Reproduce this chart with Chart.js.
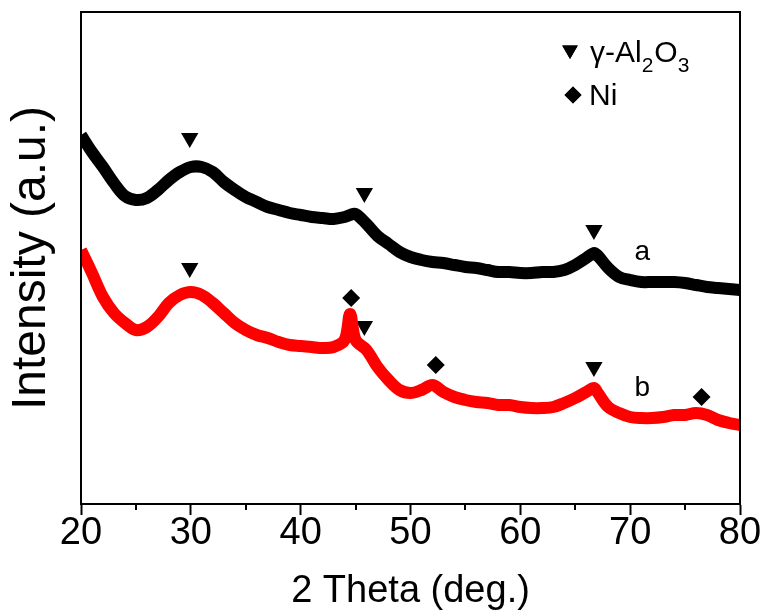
<!DOCTYPE html>
<html>
<head>
<meta charset="utf-8">
<script src="https://cdn.jsdelivr.net/npm/chart.js@4.4.0/dist/chart.umd.min.js"></script>
<style>
  html, body { margin: 0; padding: 0; background: #fff; }
  #wrap { width: 767px; height: 614px; }
</style>
</head>
<body>
<div id="wrap"><canvas id="xrdChart"></canvas></div>
<script>
// 2 theta positions (deg.)
const angles = [20, 21, 22, 23, 24, 25, 26, 27, 28, 29, 30, 31, 32, 33, 34, 35, 36, 37, 38, 39, 40, 41, 42, 43, 44, 44.5,
  45, 46, 47, 48, 49, 50, 51, 52, 53, 54, 55, 56, 57, 58, 59, 60, 61, 62, 63, 64, 65, 66, 66.7,
  67, 68, 69, 70, 71, 72, 73, 74, 75, 76, 77, 78, 79, 80];

// intensity (a.u.), sample a (black) and sample b (red)
const sampleA = [369, 352, 337, 321, 308, 304, 306, 314, 324, 332, 337, 337, 332, 322, 314, 307, 302, 297, 294, 291, 289, 287, 286, 285, 287, 289,
  290, 280, 268, 260, 252, 247, 244, 242, 241, 239, 237, 236, 234, 232, 232, 231, 231, 232, 232, 234, 239, 246, 251,
  249, 236, 227, 224, 222, 222, 222, 222, 221, 219, 217, 216, 215, 214];
const sampleB = [254, 231, 207, 191, 181, 174, 177, 187, 201, 209, 212, 209, 201, 191, 181, 174, 169, 166, 162, 159, 158, 157, 156, 157, 164, 190,
  164, 154, 137, 124, 114, 111, 114, 119, 112, 107, 104, 102, 101, 99, 99, 97, 96, 96, 97, 101, 106, 112, 116,
  112, 97, 91, 87, 86, 86, 87, 89, 89, 91, 89, 84, 81, 79];

// phase markers
const aluminaX = [29.9, 45.8, 66.7, 29.9, 45.8, 66.7];
const aluminaY = [366, 311, 274, 236, 178, 137];
const nickelX = [44.6, 52.3, 76.5];
const nickelY = [206, 139, 107];

const curveLabels = ['a', 'b'];
const curveLabelX = [71.1, 71.1];
const curveLabelY = [252, 116];

const xTicks = [20, 30, 40, 50, 60, 70, 80];
const xMinorTicks = [25, 35, 45, 55, 65, 75];

const FONT = '"Liberation Sans", Arial, sans-serif';

const toPoints = (xs, ys) => xs.map((x, i) => ({ x: x, y: ys[i] }));

const framePlugin = {
  id: 'frame',
  afterDraw(chart) {
    const ctx = chart.ctx;
    const area = chart.chartArea;
    const xScale = chart.scales.x;
    const yScale = chart.scales.y;
    ctx.save();
    ctx.strokeStyle = '#000';
    ctx.lineWidth = 2;
    ctx.strokeRect(area.left, area.top, area.right - area.left, area.bottom - area.top);

    // minor ticks
    xMinorTicks.forEach(v => {
      const px = Math.round(xScale.getPixelForValue(v));
      ctx.beginPath();
      ctx.moveTo(px, area.bottom);
      ctx.lineTo(px, area.bottom + 6);
      ctx.stroke();
    });

    // curve labels
    ctx.fillStyle = '#000';
    ctx.font = '28px ' + FONT;
    ctx.textAlign = 'center';
    ctx.textBaseline = 'middle';
    curveLabels.forEach((t, i) => {
      ctx.fillText(t, xScale.getPixelForValue(curveLabelX[i]), yScale.getPixelForValue(curveLabelY[i]));
    });

    // legend
    const lx = area.right - 170;
    Chart.helpers.drawPoint(ctx, { pointStyle: 'triangle', radius: 9, rotation: 180, borderWidth: 0 }, lx, area.top + 38);
    ctx.fill();
    Chart.helpers.drawPoint(ctx, { pointStyle: 'rectRot', radius: 8.5, rotation: 0, borderWidth: 0 }, lx + 3, area.top + 83);
    ctx.fill();

    ctx.textAlign = 'left';
    ctx.textBaseline = 'alphabetic';
    let tx = lx + 20;
    const base = area.top + 50;
    const parts = [['γ-Al', 0], ['2', 1], ['O', 0], ['3', 1]];
    parts.forEach(p => {
      ctx.font = (p[1] ? '21px ' : '30px ') + FONT;
      ctx.fillText(p[0], tx, base + (p[1] ? 10 : 0));
      tx += ctx.measureText(p[0]).width + (p[1] ? 1 : 0);
    });
    ctx.font = '30px ' + FONT;
    ctx.fillText('Ni', lx + 19, area.top + 93);
    ctx.restore();
  }
};

const ctx = document.getElementById('xrdChart').getContext('2d');
new Chart(ctx, {
  type: 'scatter',
  data: {
    datasets: [
      {
        type: 'line',
        label: 'a',
        data: toPoints(angles, sampleA),
        borderColor: '#000000',
        borderWidth: 12,
        pointRadius: 0,
        tension: 0.35,
        fill: false,
        clip: 0
      },
      {
        type: 'line',
        label: 'b',
        data: toPoints(angles, sampleB),
        borderColor: '#ff0000',
        borderWidth: 12,
        pointRadius: 0,
        tension: 0.35,
        fill: false,
        clip: 0
      },
      {
        label: 'γ-Al2O3',
        data: toPoints(aluminaX, aluminaY),
        pointStyle: 'triangle',
        rotation: 180,
        pointRadius: 10,
        backgroundColor: '#000',
        borderWidth: 0,
        clip: false
      },
      {
        label: 'Ni',
        data: toPoints(nickelX, nickelY),
        pointStyle: 'rectRot',
        pointRadius: 9,
        backgroundColor: '#000',
        borderWidth: 0,
        clip: false
      }
    ]
  },
  options: {
    responsive: true,
    maintainAspectRatio: false,
    animation: false,
    layout: {
      padding: { top: 12, right: 27, left: 0, bottom: 0 }
    },
    plugins: {
      legend: { display: false },
      tooltip: { enabled: false }
    },
    scales: {
      x: {
        type: 'linear',
        min: 20,
        max: 80,
        afterFit: s => { s.height = 110; },
        afterBuildTicks: s => { s.ticks = xTicks.map(v => ({ value: v })); },
        ticks: {
          color: '#000',
          font: { family: FONT, size: 38 },
          padding: -4,
          maxRotation: 0
        },
        grid: {
          drawOnChartArea: false,
          drawTicks: true,
          tickLength: 11,
          tickColor: '#000',
          tickWidth: 2
        },
        border: { color: '#000', width: 2 },
        title: {
          display: true,
          text: '2 Theta (deg.)',
          color: '#000',
          font: { family: FONT, size: 38 },
          padding: { top: 0, bottom: 0 }
        }
      },
      y: {
        min: 0,
        max: 492,
        afterFit: s => { s.width = 81; },
        ticks: { display: false },
        grid: { display: false },
        border: { color: '#000', width: 2 },
        title: {
          display: true,
          text: 'Intensity (a.u.)',
          color: '#000',
          font: { family: FONT, size: 48 },
          padding: { top: 3, bottom: 0 }
        }
      }
    }
  },
  plugins: [framePlugin]
});
</script>
</body>
</html>
